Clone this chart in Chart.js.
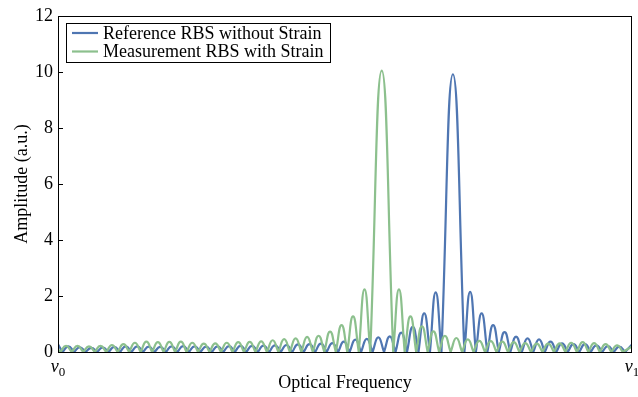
<!DOCTYPE html>
<html>
<head>
<meta charset="utf-8">
<script src="https://cdn.jsdelivr.net/npm/chart.js@4.4.1/dist/chart.umd.min.js"></script>
<style>
  html, body { margin: 0; padding: 0; background: #fff; }
  #wrap { width: 638px; height: 397px; }
</style>
</head>
<body>
<div id="wrap"><canvas id="rbsChart" width="638" height="397"></canvas></div>
<script>
// optical frequency runs 0 (v0) .. 100 (v1)
const freqTicks = [0, 100];
const freqTickNames = ['v', 'v'];
const freqTickSubs = ['0', '1'];
const ampTicks = [0, 2, 4, 6, 8, 10, 12];

const seriesNames = ['Reference RBS without Strain', 'Measurement RBS with Strain'];
const seriesColors = ['#4f76b2', '#8cc08d'];

// Reference RBS: zero crossings, lobe heights between them, values at v0 / v1
const refZeros = [0.8, 2.8, 4.8, 6.8, 8.8, 10.8, 12.8, 14.8, 16.8, 18.8, 20.8, 22.8,
  24.8, 26.8, 28.8, 30.8, 32.8, 34.8, 36.8, 38.8, 40.8, 42.8, 44.8, 46.8, 48.8, 50.8,
  52.8, 54.8, 56.8, 58.8, 60.8, 62.8, 64.8, 66.8, 70.8, 72.8, 74.8, 76.8, 78.8, 80.8,
  82.8, 84.8, 86.8, 88.8, 90.8, 92.8, 94.8, 96.8, 98.8];
const refLobes = [0.2, 0.17, 0.15, 0.16, 0.18, 0.2, 0.2, 0.19, 0.18, 0.2, 0.21, 0.2,
  0.19, 0.2, 0.21, 0.22, 0.22, 0.23, 0.24, 0.25, 0.27, 0.28, 0.3, 0.32, 0.37, 0.44,
  0.47, 0.52, 0.56, 0.69, 0.9, 1.38, 2.13,
  9.92,
  2.15, 1.38, 0.96, 0.71, 0.55, 0.49, 0.45, 0.37, 0.31, 0.28, 0.28, 0.24, 0.21, 0.19];
const refEdges = [0.27, 0.27];

// Measurement RBS (strained)
const measZeros = [0.4, 2.4, 4.4, 6.4, 8.4, 10.4, 12.4, 14.4, 16.4, 18.4, 20.4, 22.4,
  24.4, 26.4, 28.4, 30.4, 32.4, 34.4, 36.4, 38.4, 40.4, 42.4, 44.4, 46.4, 48.4, 50.4,
  52.4, 54.4, 58.4, 60.4, 62.4, 64.4, 66.4, 68.4, 70.4, 72.4, 74.4, 76.4, 78.4, 80.4,
  82.4, 84.4, 86.4, 88.4, 90.4, 92.4, 94.4, 96.4, 98.4];
const measLobes = [0.22, 0.22, 0.2, 0.22, 0.25, 0.28, 0.33, 0.37, 0.35, 0.36, 0.37,
  0.33, 0.3, 0.31, 0.33, 0.35, 0.36, 0.38, 0.42, 0.46, 0.49, 0.54, 0.58, 0.73, 0.96,
  1.27, 2.24,
  10.05,
  2.24, 1.27, 0.92, 0.74, 0.58, 0.5, 0.45, 0.4, 0.39, 0.37, 0.35, 0.32, 0.3, 0.3,
  0.31, 0.33, 0.35, 0.32, 0.28, 0.24];
const measEdges = [0.1, 0.2];

const serif = "'Liberation Serif', 'Times New Roman', serif";
Chart.defaults.font.family = serif;
Chart.defaults.font.size = 18;
Chart.defaults.color = '#000';

// each zero is doubled so the spline makes a sharp dip there
function tracePoints(zeros, lobes, edges) {
  const pts = [{ x: freqTicks[0], y: edges[0] }];
  zeros.forEach((z, i) => {
    pts.push({ x: z, y: 0 }, { x: z, y: 0 });
    if (i < lobes.length) pts.push({ x: (z + zeros[i + 1]) / 2, y: lobes[i] });
  });
  pts.push({ x: freqTicks[1], y: edges[1] });
  return pts;
}

const framePlugin = {
  id: 'frame',
  afterDatasetsDraw(chart) {
    const { ctx, chartArea: a, scales } = chart;
    ctx.save();
    ctx.strokeStyle = '#000';
    ctx.lineWidth = 1;
    ctx.strokeRect(Math.round(a.left) + 0.5, Math.round(a.top) + 0.5,
      Math.round(a.right - a.left) - 1, Math.round(a.bottom - a.top));
    // inward ticks on the amplitude axis
    ampTicks.forEach(v => {
      const y = Math.round(scales.y.getPixelForValue(v)) + 0.5;
      ctx.beginPath();
      ctx.moveTo(a.left, y);
      ctx.lineTo(a.left + 5, y);
      ctx.stroke();
    });
    // v0 / v1 labels
    ctx.fillStyle = '#000';
    ctx.textBaseline = 'alphabetic';
    freqTicks.forEach((v, i) => {
      const x = scales.x.getPixelForValue(v);
      ctx.font = 'italic 18px ' + serif;
      const w1 = ctx.measureText(freqTickNames[i]).width;
      ctx.font = '13px ' + serif;
      const w2 = ctx.measureText(freqTickSubs[i]).width;
      const x0 = x - (w1 + w2) / 2;
      ctx.font = 'italic 18px ' + serif;
      ctx.fillText(freqTickNames[i], x0, a.bottom + 20);
      ctx.font = '13px ' + serif;
      ctx.fillText(freqTickSubs[i], x0 + w1, a.bottom + 24);
    });
    // legend box
    const bx = a.left + 8.5, by = a.top + 7.5;
    ctx.fillStyle = '#fff';
    ctx.fillRect(bx, by, 264, 39);
    ctx.strokeRect(bx, by, 264, 39);
    ctx.font = '18px ' + serif;
    ctx.textBaseline = 'middle';
    seriesNames.forEach((name, i) => {
      const y = a.top + 17 + i * 18.5;
      ctx.strokeStyle = seriesColors[i];
      ctx.lineWidth = 2.2;
      ctx.beginPath();
      ctx.moveTo(a.left + 14, y);
      ctx.lineTo(a.left + 40, y);
      ctx.stroke();
      ctx.fillStyle = '#000';
      ctx.fillText(name, a.left + 45, y + 1);
    });
    ctx.restore();
  }
};

new Chart(document.getElementById('rbsChart').getContext('2d'), {
  type: 'line',
  data: {
    datasets: [
      { label: seriesNames[0], data: tracePoints(refZeros, refLobes, refEdges),
        borderColor: seriesColors[0], borderWidth: 2.2, pointRadius: 0, tension: 0.5, order: 1 },
      { label: seriesNames[1], data: tracePoints(measZeros, measLobes, measEdges),
        borderColor: seriesColors[1], borderWidth: 2.2, pointRadius: 0, tension: 0.5, order: 0 }
    ]
  },
  options: {
    responsive: false,
    animation: false,
    layout: { padding: { top: 16, right: 6, left: 0, bottom: 0 } },
    plugins: { legend: { display: false }, tooltip: { enabled: false } },
    scales: {
      x: {
        type: 'linear', min: freqTicks[0], max: freqTicks[1],
        ticks: { display: false },
        grid: { display: false },
        border: { display: false },
        title: { display: true, text: 'Optical Frequency', padding: { top: 0, bottom: 3 } },
        afterFit(s) { s.height = 45; }
      },
      y: {
        min: 0, max: 12,
        ticks: { stepSize: 2, padding: 5 },
        grid: { display: false, drawTicks: false },
        border: { display: false },
        title: { display: true, text: 'Amplitude (a.u.)', padding: { top: 11, bottom: 0 } },
        afterFit(s) { s.width = 58; }
      }
    }
  },
  plugins: [framePlugin]
});
</script>
</body>
</html>
